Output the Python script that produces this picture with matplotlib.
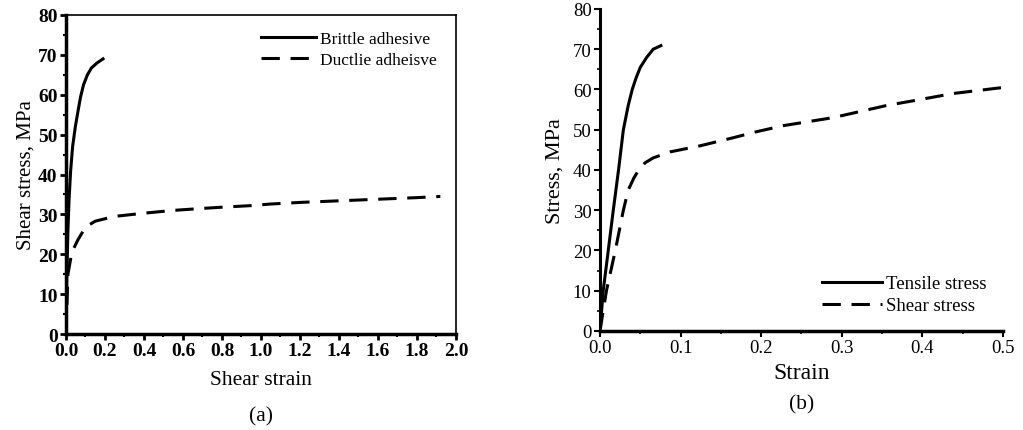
import matplotlib.pyplot as plt
from matplotlib.ticker import MultipleLocator

plt.rcParams['font.family'] = ['Liberation Serif', 'DejaVu Serif']

# (a) shear stress vs shear strain
brittle_x = [0.0, 0.004, 0.01, 0.016, 0.024, 0.034, 0.048, 0.062, 0.075, 0.09, 0.11,
             0.13, 0.16, 0.19]
brittle_y = [0.0, 14, 26, 34, 41, 47, 52, 56, 59.5, 62.5, 65, 66.7, 68, 69]
ductile_x = [0.0, 0.01, 0.03, 0.06, 0.1, 0.15, 0.25, 0.4, 0.55, 0.7, 0.8, 0.95, 1.05,
             1.2, 1.4, 1.6, 1.8, 1.92]
ductile_y = [0.0, 15, 20.5, 23.5, 26.8, 28.3, 29.5, 30.3, 31.0, 31.5, 31.8, 32.2, 32.6,
             33.0, 33.4, 33.8, 34.2, 34.5]

# (b) stress vs strain
tensile_x = [0.0, 0.004, 0.0165, 0.023, 0.029, 0.035, 0.040, 0.045, 0.050, 0.058, 0.066,
             0.0756]
tensile_y = [0.0, 10, 30, 40, 50, 56, 60, 63, 65.5, 68, 70, 70.9]
shear_x = [0.0, 0.008, 0.019, 0.029, 0.035, 0.042, 0.048, 0.056, 0.066, 0.087, 0.124,
           0.165, 0.194, 0.227, 0.289, 0.355, 0.397, 0.438, 0.5]
shear_y = [0.0, 10, 20, 30, 35, 38, 40, 41.8, 43, 44.5, 46, 48, 49.5, 51, 53, 56, 57.5,
           59, 60.5]

fig = plt.figure(figsize=(10.23, 4.31), dpi=100)
ax1 = fig.add_axes([0.0645, 0.2227, 0.3812, 0.7402])
ax2 = fig.add_axes([0.5865, 0.2297, 0.3939, 0.7471])

dash = (0, (6, 3.5))

ax1.plot(brittle_x, brittle_y, color='black', lw=2.2, label='Brittle adhesive')
ax1.plot(ductile_x, ductile_y, color='black', lw=2.2, linestyle=dash, label='Ductlie adheisve')
ax1.set_xlim(0, 2.0)
ax1.set_ylim(0, 80)
ax1.xaxis.set_major_locator(MultipleLocator(0.2))
ax1.xaxis.set_minor_locator(MultipleLocator(0.1))
ax1.yaxis.set_major_locator(MultipleLocator(10))
ax1.yaxis.set_minor_locator(MultipleLocator(5))
ax1.xaxis.set_major_formatter(plt.FuncFormatter(lambda v, p: f'{v:.1f}'))
ax1.tick_params(which='major', direction='out', length=4, width=2, labelsize=14, pad=2)
ax1.tick_params(which='minor', direction='out', length=2, width=1.5)
for lab in ax1.get_xticklabels() + ax1.get_yticklabels():
    lab.set_fontweight('bold')
for s in ax1.spines.values():
    s.set_linewidth(1.2)
ax1.spines['left'].set_linewidth(2.5)
ax1.spines['bottom'].set_linewidth(2.5)
ax1.set_xlabel('Shear strain', fontsize=15.5, labelpad=8)
ax1.set_ylabel('Shear stress, MPa', fontsize=15, labelpad=2)
ax1.text(0.5, -0.225, '(a)', transform=ax1.transAxes, ha='center', va='top', fontsize=15.5)
ax1.legend(loc='upper right', bbox_to_anchor=(0.99, 1.0), frameon=False, fontsize=12.5,
           handlelength=3.2, handletextpad=0.2, labelspacing=0.3)

ax2.plot(tensile_x, tensile_y, color='black', lw=2.2, label='Tensile stress')
ax2.plot(shear_x, shear_y, color='black', lw=2.2, linestyle=dash, label='Shear stress')
ax2.set_xlim(0, 0.5)
ax2.set_ylim(0, 80)
ax2.xaxis.set_major_locator(MultipleLocator(0.1))
ax2.xaxis.set_minor_locator(MultipleLocator(0.05))
ax2.yaxis.set_major_locator(MultipleLocator(10))
ax2.yaxis.set_minor_locator(MultipleLocator(5))
ax2.xaxis.set_major_formatter(plt.FuncFormatter(lambda v, p: f'{v:.1f}'))
ax2.tick_params(which='major', direction='out', length=4, width=1.5, labelsize=13.5, pad=2)
ax2.tick_params(which='minor', direction='out', length=2, width=1.2)
ax2.spines['top'].set_visible(False)
ax2.spines['right'].set_visible(False)
ax2.spines['left'].set_linewidth(2.2)
ax2.spines['bottom'].set_linewidth(2.5)
ax2.set_xlabel('Strain', fontsize=17, labelpad=4)
ax2.set_ylabel('Stress, MPa', fontsize=16, labelpad=6)
ax2.text(0.5, -0.195, '(b)', transform=ax2.transAxes, ha='center', va='top', fontsize=15.5)
ax2.legend(loc='lower right', bbox_to_anchor=(1.0, 0.0), frameon=False, fontsize=13.5,
           handlelength=3.2, handletextpad=0.2, labelspacing=0.25)

fig.savefig('out.png', dpi=100)
